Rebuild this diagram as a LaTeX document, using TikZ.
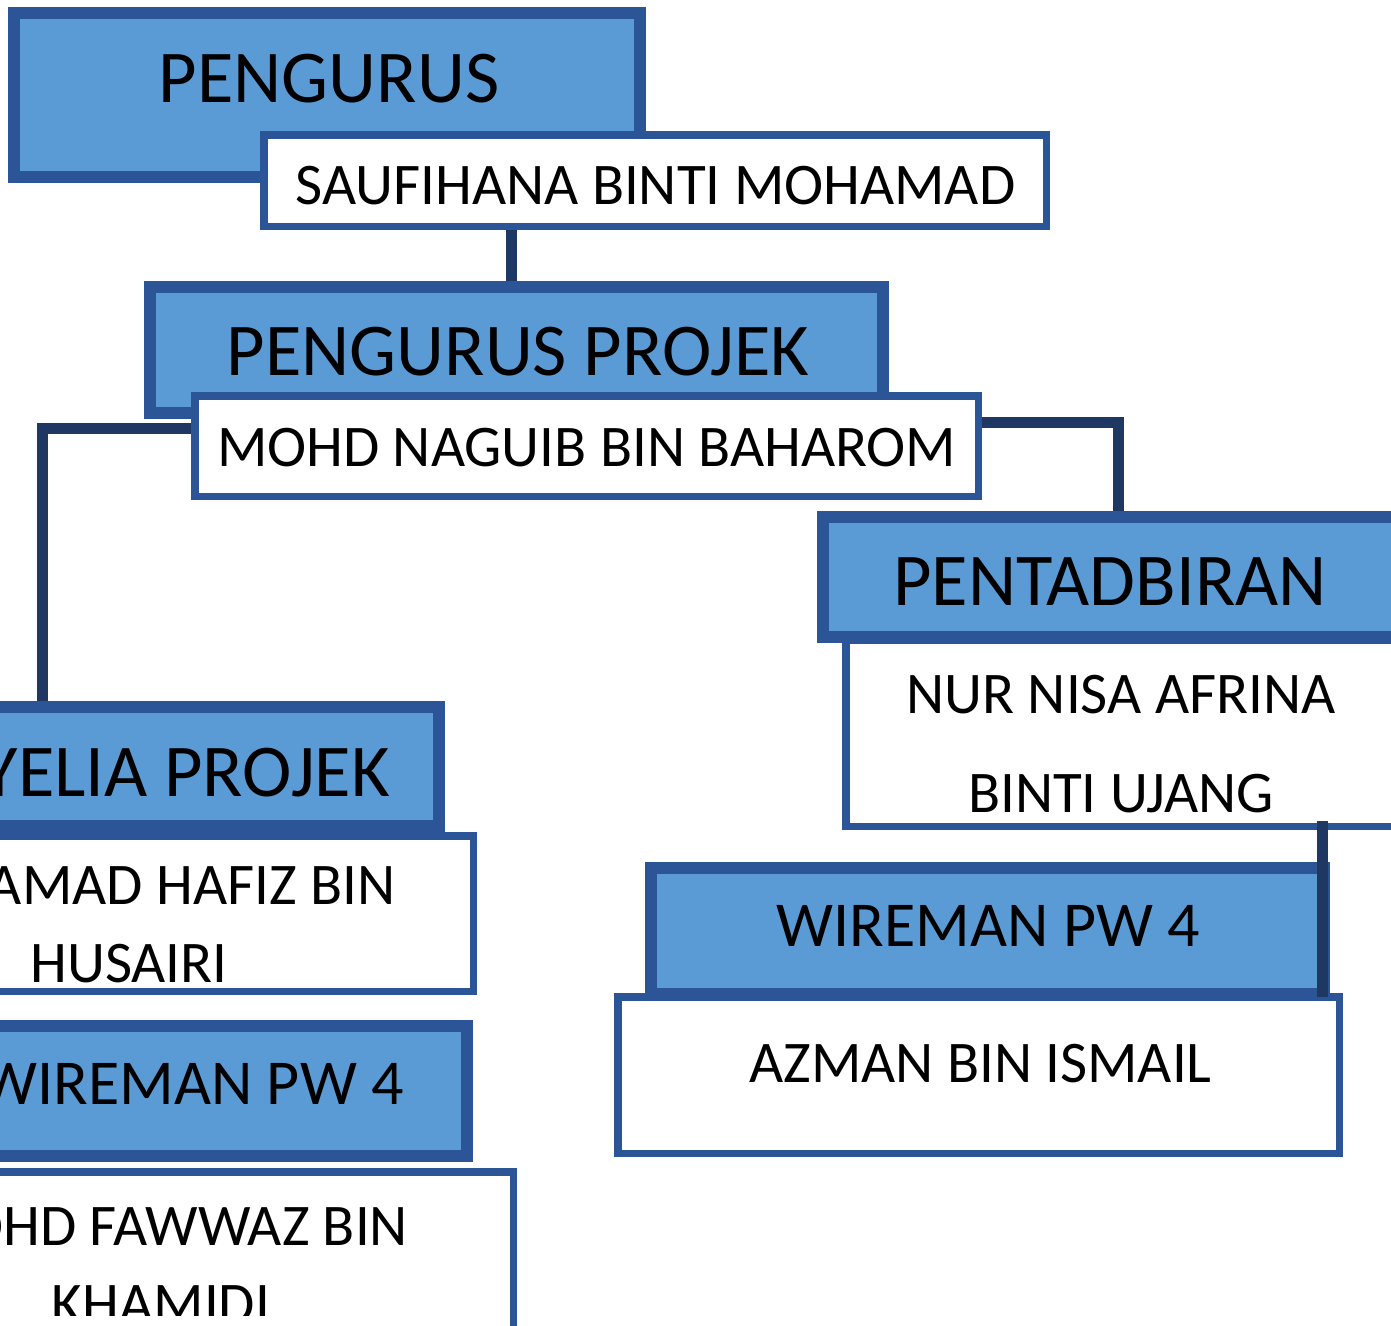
\documentclass[tikz,border=0pt]{standalone}
\usepackage{fontspec}
\setmainfont{Carlito}
\usetikzlibrary{calc}

\definecolor{boxblue}{RGB}{91,155,213}
\definecolor{edgeblue}{RGB}{43,85,151}
\definecolor{linknavy}{RGB}{30,55,99}

\begin{document}
\begin{tikzpicture}[x=1pt, y=-1pt]
    \tikzstyle{rolebox} = [rectangle, draw=edgeblue, fill=boxblue, line width=12pt, inner sep=0pt]
    \tikzstyle{namebox} = [rectangle, draw=edgeblue, fill=white, line width=7.5pt, inner sep=0pt]
    \tikzstyle{roletext} = [inner sep=0pt, font=\fontsize{74.5}{89}\selectfont]
    \tikzstyle{wiretext} = [inner sep=0pt, font=\fontsize{64}{77}\selectfont]
    \tikzstyle{nametext} = [inner sep=0pt, align=center, font=\fontsize{59}{78}\selectfont]
    \tikzstyle{connector} = [draw=linknavy, line width=11pt]

    \useasboundingbox (0,0) rectangle (1391,1325);
    \clip (0,0) rectangle (1391,1325);

    % top
    \node [rolebox, minimum width=626pt, minimum height=164pt] (pengurus) at (327,95) {};
    \node [namebox, minimum width=782.5pt, minimum height=91.5pt] (saufihana) at (655,180.5) {};
    \node [roletext] (tPengurus) at (329,79) {PENGURUS};
    \node [nametext] (tSaufihana) at (655.5,185.5) {SAUFIHANA BINTI MOHAMAD};

    \node [rolebox, minimum width=733pt, minimum height=126pt] (pengurusprojek) at (516.5,350) {};
    \node [namebox, minimum width=783.5pt, minimum height=100.5pt] (naguib) at (586.5,446) {};
    \node [roletext] (tProjek) at (518,352) {PENGURUS PROJEK};
    \node [nametext] (tNaguib) at (586.5,447.5) {MOHD NAGUIB BIN BAHAROM};

    % right branch
    \node [rolebox, minimum width=591pt, minimum height=120pt] (pentadbiran) at (1118.5,577) {};
    \node [namebox, minimum width=570.5pt, minimum height=186.5pt] (nurnisa) at (1131,733) {};
    \node [roletext] (tPentadbiran) at (1110,582) {PENTADBIRAN};
    \node [nametext, font=\fontsize{59}{98.5}\selectfont] (tNurnisa) at (1121,744) {NUR NISA AFRINA\\BINTI UJANG};

    \node [rolebox, minimum width=673pt, minimum height=126pt] (wiremankanan) at (987.5,931) {};
    \node [namebox, minimum width=721.5pt, minimum height=156.5pt] (azman) at (978.5,1075) {};
    \node [wiretext] (tWiremanKanan) at (988.5,926) {WIREMAN PW 4};
    \node [nametext] (tAzman) at (980.5,1063.5) {AZMAN BIN ISMAIL};

    % left branch
    \node [rolebox, minimum width=794pt, minimum height=119pt] (penyelia) at (42,766.5) {};
    \node [namebox, minimum width=569.5pt, minimum height=155.5pt] (hafiz) at (188.5,913.5) {};
    \node [roletext, anchor=east] (tPenyelia) at (390,772.5) {PENYELIA PROJEK};
    \node [nametext] (tHafiz) at (129,925) {MUHAMAD HAFIZ BIN\\HUSAIRI};

    \node [rolebox, minimum width=561pt, minimum height=130pt] (wiremankiri) at (186.5,1091) {};
    \node [namebox, minimum width=609.5pt, minimum height=224.5pt] (fawwaz) at (208.5,1284) {};
    \node [wiretext, anchor=east] (tWiremanKiri) at (404,1084) {WIREMAN PW 4};
    \begin{scope}
        \clip (fawwaz.north west) rectangle (1391,1315);
        \node [nametext] (tFawwaz) at (161,1265) {MOHD FAWWAZ BIN\\KHAMIDI};
    \end{scope}

    % connectors
    \path [connector] ($(saufihana.south -| pengurusprojek.north)+(-5,0)$) -- ($(pengurusprojek.north)+(-5,0)$);
    \path [connector] ($(naguib.west)+(0,-18)$) -| (penyelia.north);
    \path [connector] ($(naguib.east)+(0,-24)$) -| (pentadbiran.north);
    \path [connector] ($(nurnisa.south -| wiremankanan.east)+(-8,-9)$) -- ($(wiremankanan.south east)+(-8,-3)$);
\end{tikzpicture}
\end{document}
